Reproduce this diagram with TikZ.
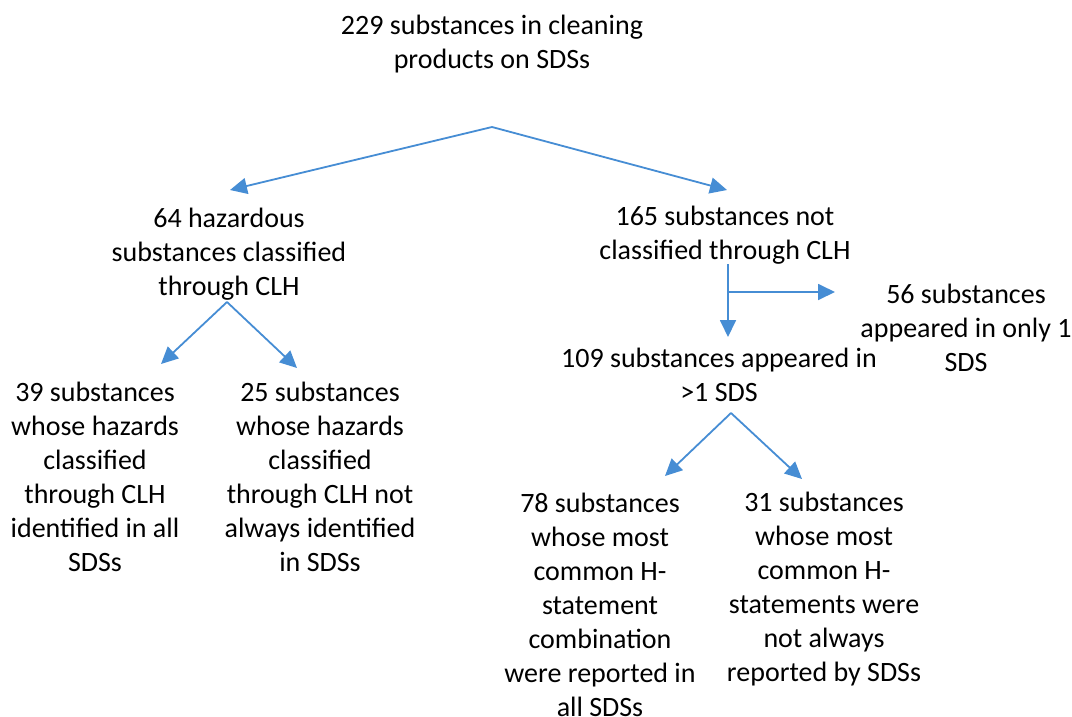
\documentclass[tikz,border=0pt]{standalone}
\usepackage{fontspec}
\setmainfont{Carlito}
\usetikzlibrary{arrows.meta}
\definecolor{arrowblue}{RGB}{70,141,212}
\begin{document}
\begin{tikzpicture}[x=1pt,y=-1pt,
  lbl/.style={align=center,inner sep=0pt,font=\fontsize{28}{34}\selectfont,text=black},
  conn/.style={draw=arrowblue,line width=1.8pt},
  arr/.style={conn,-{Triangle[length=17pt,width=16pt]}}]
\useasboundingbox[fill=white] (0,0) rectangle (1072,716);
% text nodes
\node[lbl] (top) at (492,44) {229 substances in cleaning\\products on SDSs};
\node[lbl] (n64) at (229,254) {64 hazardous\\substances classified\\through CLH};
\node[lbl] (n165) at (725,235) {165 substances not\\classified through CLH};
\node[lbl] (n56) at (966,328) {56 substances\\appeared in only 1\\SDS};
\node[lbl] (n109) at (719,375) {109 substances appeared in\\>1 SDS};
\node[lbl] (n39) at (95,477) {39 substances\\whose hazards\\classified\\through CLH\\identified in all\\SDSs};
\node[lbl] (n25) at (320,477) {25 substances\\whose hazards\\classified\\through CLH not\\always identified\\in SDSs};
\node[lbl] (n78) at (600,605) {78 substances\\whose most\\common H-\\statement\\combination\\were reported in\\all SDSs};
\node[lbl] (n31) at (824,589) {31 substances\\whose most\\common H-\\statements were\\not always\\reported by SDSs};
% connector points
\coordinate (a1) at (492,127);
\coordinate (t64) at (230,190);
\coordinate (t165) at (727,190);
\coordinate (a2) at (227,302);
\coordinate (t39) at (161,364);
\coordinate (t25) at (297,368);
\coordinate (v0) at (728,264);
\coordinate (vb) at (728,292);
\coordinate (t56) at (835,292);
\coordinate (t109) at (728,337);
\coordinate (a3) at (731,413);
\coordinate (t78) at (665,476);
\coordinate (t31) at (802,479);
% connectors
\draw[arr] (a1) -- (t64);
\draw[arr] (a1) -- (t165);
\draw[arr] (a2) -- (t39);
\draw[arr] (a2) -- (t25);
\draw[arr] (v0) -- (t109);
\draw[arr] (vb) -- (t56);
\draw[arr] (a3) -- (t78);
\draw[arr] (a3) -- (t31);
\end{tikzpicture}
\end{document}
